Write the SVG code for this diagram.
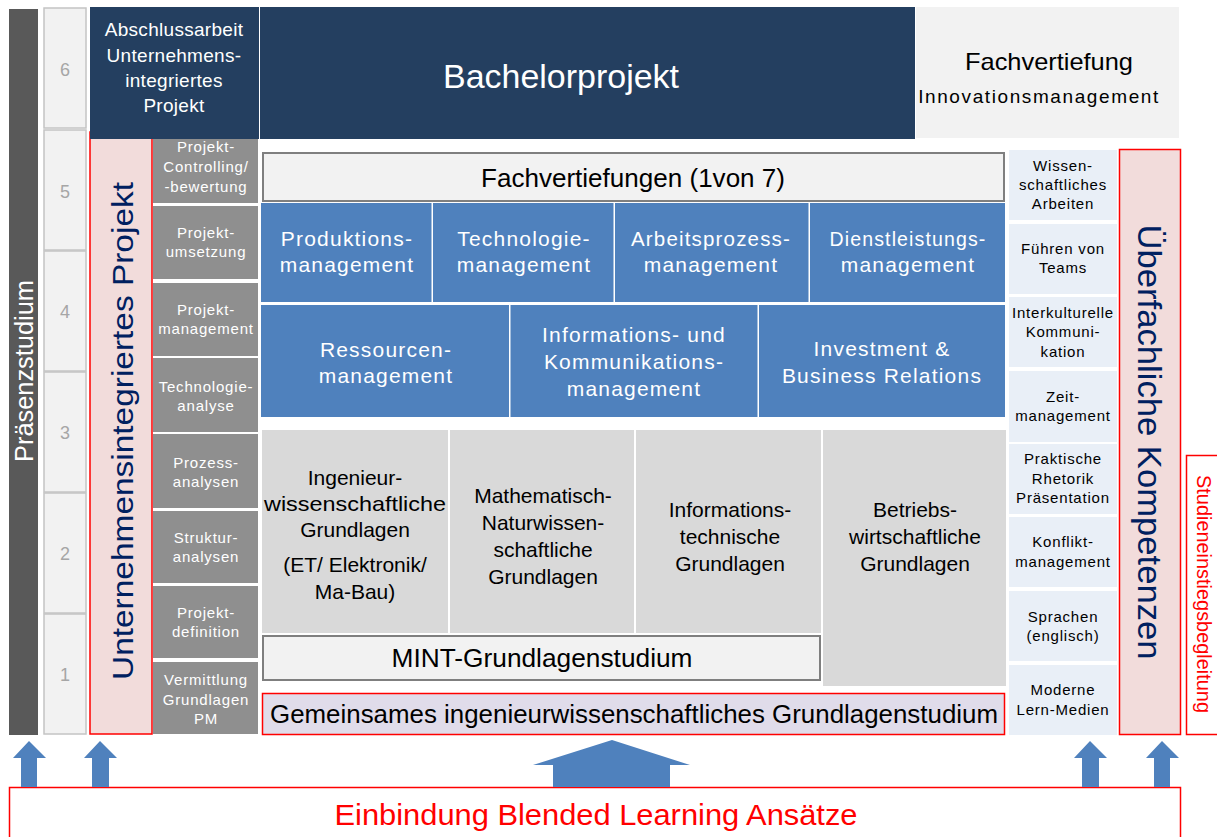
<svg xmlns="http://www.w3.org/2000/svg" width="1217" height="837" viewBox="0 0 1217 837">
  <style>
    text { font-family: "Liberation Sans", Arial, sans-serif; text-anchor: middle; }
    .sem { fill: #f2f2f2; stroke: #c4c4c4; stroke-width: 1.5; }
    .semnum { font-size: 18px; fill: #a6a6a6; }
    .navy { fill: #243f60; }
    .navytxt { fill: #ffffff; font-size: 19px; letter-spacing: 0.3px; }
    .pink { fill: #f2dcdb; stroke: #ff0000; stroke-width: 1.5; }
    .vtitle { fill: #002060; }
    .step { fill: #8f8f8f; }
    .steptxt { fill: #ffffff; font-size: 15px; letter-spacing: 0.8px; }
    .frame { fill: #f2f2f2; stroke: #7f7f7f; stroke-width: 2; }
    .blue { fill: #4f81bd; }
    .bluetxt { fill: #ffffff; font-size: 21px; letter-spacing: 1.2px; }
    .base { fill: #d9d9d9; }
    .basetxt { fill: #000000; font-size: 21px; }
    .soft { fill: #e9eff7; }
    .softtxt { fill: #000000; font-size: 15px; letter-spacing: 0.8px; }
    .redbox { fill: #ffffff; stroke: #ff0000; stroke-width: 1.5; }
    .arrow { fill: #4f81bd; }
  </style>

  <rect width="1217" height="837" fill="#ffffff"/>

  <!-- Präsenzstudium bar -->
  <g id="praesenzstudium">
    <rect x="9" y="9" width="29" height="726" fill="#595959"/>
    <text transform="translate(33,371) rotate(-90)" font-size="26" fill="#ffffff" textLength="182" lengthAdjust="spacingAndGlyphs">Präsenzstudium</text>
  </g>

  <!-- Semester column -->
  <g id="semester">
    <rect class="sem" x="44" y="8" width="42" height="120"/>
    <rect class="sem" x="44" y="130" width="42" height="120"/>
    <rect class="sem" x="44" y="251" width="42" height="120"/>
    <rect class="sem" x="44" y="372" width="42" height="120"/>
    <rect class="sem" x="44" y="493" width="42" height="120"/>
    <rect class="sem" x="44" y="614" width="42" height="120"/>
    <text class="semnum" x="65" y="76">6</text>
    <text class="semnum" x="65" y="198">5</text>
    <text class="semnum" x="65" y="318">4</text>
    <text class="semnum" x="65" y="439">3</text>
    <text class="semnum" x="65" y="560">2</text>
    <text class="semnum" x="65" y="681">1</text>
  </g>

  <!-- Unternehmensintegriertes Projekt -->
  <g id="unternehmensprojekt">
    <rect class="pink" x="90" y="132" width="62" height="602"/>
    <text class="vtitle" transform="translate(133,431) rotate(-90)" font-size="30" textLength="498" lengthAdjust="spacingAndGlyphs">Unternehmensintegriertes Projekt</text>
  </g>

  <!-- Semester 6 -->
  <g id="abschlussarbeit">
    <rect class="navy" x="90" y="7" width="169" height="132"/>
    <text class="navytxt" x="174" y="36">Abschlussarbeit</text>
    <text class="navytxt" x="174" y="62">Unternehmens-</text>
    <text class="navytxt" x="174" y="87">integriertes</text>
    <text class="navytxt" x="174" y="112">Projekt</text>
  </g>
  <g id="bachelorprojekt">
    <rect class="navy" x="260" y="7" width="655" height="132"/>
    <text x="561" y="88" font-size="33" fill="#ffffff" textLength="236" lengthAdjust="spacingAndGlyphs">Bachelorprojekt</text>
  </g>
  <g id="fachvertiefung-innovation">
    <rect x="916" y="7" width="263" height="131" fill="#f2f2f2"/>
    <text x="1049" y="70" font-size="24" fill="#000000" textLength="168" lengthAdjust="spacingAndGlyphs">Fachvertiefung</text>
    <text x="1039" y="103" font-size="19" fill="#000000" letter-spacing="1.6">Innovationsmanagement</text>
  </g>

  <!-- Project steps -->
  <g id="projektschritte">
    <rect class="step" x="153" y="139" width="105" height="64"/>
    <rect class="step" x="153" y="206" width="105" height="73"/>
    <rect class="step" x="153" y="283" width="105" height="73"/>
    <rect class="step" x="153" y="358" width="105" height="74"/>
    <rect class="step" x="153" y="434" width="105" height="74"/>
    <rect class="step" x="153" y="511" width="105" height="72"/>
    <rect class="step" x="153" y="586" width="105" height="72"/>
    <rect class="step" x="153" y="662" width="105" height="72"/>
    <text class="steptxt" x="206" y="152">Projekt-</text>
    <text class="steptxt" x="206" y="172">Controlling/</text>
    <text class="steptxt" x="206" y="192">-bewertung</text>
    <text class="steptxt" x="206" y="238">Projekt-</text>
    <text class="steptxt" x="206" y="257">umsetzung</text>
    <text class="steptxt" x="206" y="315">Projekt-</text>
    <text class="steptxt" x="206" y="334">management</text>
    <text class="steptxt" x="206" y="392">Technologie-</text>
    <text class="steptxt" x="206" y="411">analyse</text>
    <text class="steptxt" x="206" y="468">Prozess-</text>
    <text class="steptxt" x="206" y="487">analysen</text>
    <text class="steptxt" x="206" y="543">Struktur-</text>
    <text class="steptxt" x="206" y="562">analysen</text>
    <text class="steptxt" x="206" y="618">Projekt-</text>
    <text class="steptxt" x="206" y="637">definition</text>
    <text class="steptxt" x="206" y="685">Vermittlung</text>
    <text class="steptxt" x="206" y="705">Grundlagen</text>
    <text class="steptxt" x="206" y="724">PM</text>
  </g>

  <!-- Fachvertiefungen -->
  <g id="fachvertiefungen">
    <rect class="frame" x="263" y="153" width="741" height="48"/>
    <text x="633" y="187" font-size="26" fill="#000000" textLength="304" lengthAdjust="spacingAndGlyphs">Fachvertiefungen (1von 7)</text>
  </g>
  <g id="vertiefungen-reihe1">
    <rect class="blue" x="261" y="203" width="170.5" height="99"/>
    <rect class="blue" x="433" y="203" width="180.5" height="99"/>
    <rect class="blue" x="615" y="203" width="193.5" height="99"/>
    <rect class="blue" x="810" y="203" width="195" height="99"/>
    <text class="bluetxt" x="347" y="246">Produktions-</text>
    <text class="bluetxt" x="347" y="272">management</text>
    <text class="bluetxt" x="524" y="246">Technologie-</text>
    <text class="bluetxt" x="524" y="272">management</text>
    <text class="bluetxt" x="711" y="246" textLength="160" lengthAdjust="spacingAndGlyphs">Arbeitsprozess-</text>
    <text class="bluetxt" x="711" y="272">management</text>
    <text class="bluetxt" x="908" y="246" textLength="157" lengthAdjust="spacingAndGlyphs">Dienstleistungs-</text>
    <text class="bluetxt" x="908" y="272">management</text>
  </g>
  <g id="vertiefungen-reihe2">
    <rect class="blue" x="261" y="305" width="248" height="112"/>
    <rect class="blue" x="510.5" y="305" width="247" height="112"/>
    <rect class="blue" x="759" y="305" width="246" height="112"/>
    <text class="bluetxt" x="386" y="357">Ressourcen-</text>
    <text class="bluetxt" x="386" y="383">management</text>
    <text class="bluetxt" x="634" y="342">Informations- und</text>
    <text class="bluetxt" x="634" y="369">Kommunikations-</text>
    <text class="bluetxt" x="634" y="396">management</text>
    <text class="bluetxt" x="882" y="356">Investment &amp;</text>
    <text class="bluetxt" x="882" y="383">Business Relations</text>
  </g>

  <!-- Grundlagen -->
  <g id="grundlagen">
    <rect class="base" x="262" y="430" width="186" height="203"/>
    <rect class="base" x="450" y="430" width="184" height="203"/>
    <rect class="base" x="636" y="430" width="185" height="203"/>
    <rect class="base" x="823" y="430" width="183" height="256"/>
    <text class="basetxt" x="355" y="485">Ingenieur-</text>
    <text class="basetxt" x="355" y="511" textLength="182" lengthAdjust="spacingAndGlyphs">wissenschaftliche</text>
    <text class="basetxt" x="355" y="537">Grundlagen</text>
    <text class="basetxt" x="355" y="572">(ET/ Elektronik/</text>
    <text class="basetxt" x="355" y="599">Ma-Bau)</text>
    <text class="basetxt" x="543" y="503">Mathematisch-</text>
    <text class="basetxt" x="543" y="530">Naturwissen-</text>
    <text class="basetxt" x="543" y="557">schaftliche</text>
    <text class="basetxt" x="543" y="584">Grundlagen</text>
    <text class="basetxt" x="730" y="517">Informations-</text>
    <text class="basetxt" x="730" y="544">technische</text>
    <text class="basetxt" x="730" y="571">Grundlagen</text>
    <text class="basetxt" x="915" y="517">Betriebs-</text>
    <text class="basetxt" x="915" y="544">wirtschaftliche</text>
    <text class="basetxt" x="915" y="571">Grundlagen</text>
  </g>
  <g id="mint">
    <rect class="frame" x="263" y="636" width="557" height="44"/>
    <text x="542" y="667" font-size="26" fill="#000000" textLength="301" lengthAdjust="spacingAndGlyphs">MINT-Grundlagenstudium</text>
  </g>
  <g id="gemeinsames-grundlagenstudium">
    <rect x="262.5" y="693.5" width="742" height="41" fill="#e0dcea" stroke="#ff0000" stroke-width="1.5"/>
    <text x="634" y="723" font-size="25" fill="#000000" textLength="728" lengthAdjust="spacingAndGlyphs">Gemeinsames ingenieurwissenschaftliches Grundlagenstudium</text>
  </g>

  <!-- Soft skills -->
  <g id="kompetenzfelder">
    <rect class="soft" x="1009" y="150" width="108" height="70"/>
    <rect class="soft" x="1009" y="224" width="108" height="70"/>
    <rect class="soft" x="1009" y="297" width="108" height="70"/>
    <rect class="soft" x="1009" y="371" width="108" height="71"/>
    <rect class="soft" x="1009" y="444" width="108" height="70"/>
    <rect class="soft" x="1009" y="517" width="108" height="70"/>
    <rect class="soft" x="1009" y="591" width="108" height="70"/>
    <rect class="soft" x="1009" y="665" width="108" height="70"/>
    <text class="softtxt" x="1063" y="171">Wissen-</text>
    <text class="softtxt" x="1063" y="190">schaftliches</text>
    <text class="softtxt" x="1063" y="209">Arbeiten</text>
    <text class="softtxt" x="1063" y="254">Führen von</text>
    <text class="softtxt" x="1063" y="273">Teams</text>
    <text class="softtxt" x="1063" y="318" letter-spacing="0.5">Interkulturelle</text>
    <text class="softtxt" x="1063" y="337">Kommuni-</text>
    <text class="softtxt" x="1063" y="357">kation</text>
    <text class="softtxt" x="1063" y="402">Zeit-</text>
    <text class="softtxt" x="1063" y="421">management</text>
    <text class="softtxt" x="1063" y="464">Praktische</text>
    <text class="softtxt" x="1063" y="484">Rhetorik</text>
    <text class="softtxt" x="1063" y="503">Präsentation</text>
    <text class="softtxt" x="1063" y="547">Konflikt-</text>
    <text class="softtxt" x="1063" y="567">management</text>
    <text class="softtxt" x="1063" y="622">Sprachen</text>
    <text class="softtxt" x="1063" y="641">(englisch)</text>
    <text class="softtxt" x="1063" y="695">Moderne</text>
    <text class="softtxt" x="1063" y="715">Lern-Medien</text>
  </g>
  <g id="ueberfachliche-kompetenzen">
    <rect class="pink" x="1119.5" y="149.5" width="61" height="585"/>
    <text class="vtitle" transform="translate(1138,442) rotate(90)" font-size="34" textLength="435" lengthAdjust="spacingAndGlyphs">Überfachliche Kompetenzen</text>
  </g>
  <g id="studieneinstiegsbegleitung">
    <rect class="redbox" x="1186.5" y="455.5" width="40" height="279"/>
    <text transform="translate(1197,594) rotate(90)" font-size="21" fill="#ff0000" textLength="238" lengthAdjust="spacingAndGlyphs">Studieneinstiegsbegleitung</text>
  </g>

  <!-- Blended learning base -->
  <g id="blended-learning">
    <rect class="redbox" x="9.5" y="787.5" width="1171" height="70"/>
    <text x="596" y="825" font-size="30" fill="#ff0000" textLength="523" lengthAdjust="spacingAndGlyphs">Einbindung Blended Learning Ansätze</text>
  </g>

  <!-- Arrows from the base into the study blocks -->
  <g id="connectors">
    <polygon class="arrow" points="29,741 46,758 37,758 37,787 21,787 21,758 13,758"/>
    <polygon class="arrow" points="100,741 117,758 109,758 109,787 92,787 92,758 84,758"/>
    <polygon class="arrow" points="612,740 690,765 670,765 670,787 553,787 553,765 533,765"/>
    <polygon class="arrow" points="1090,741 1107,758 1099,758 1099,787 1082,787 1082,758 1074,758"/>
    <polygon class="arrow" points="1162,741 1179,758 1170,758 1170,787 1154,787 1154,758 1146,758"/>
  </g>
</svg>
